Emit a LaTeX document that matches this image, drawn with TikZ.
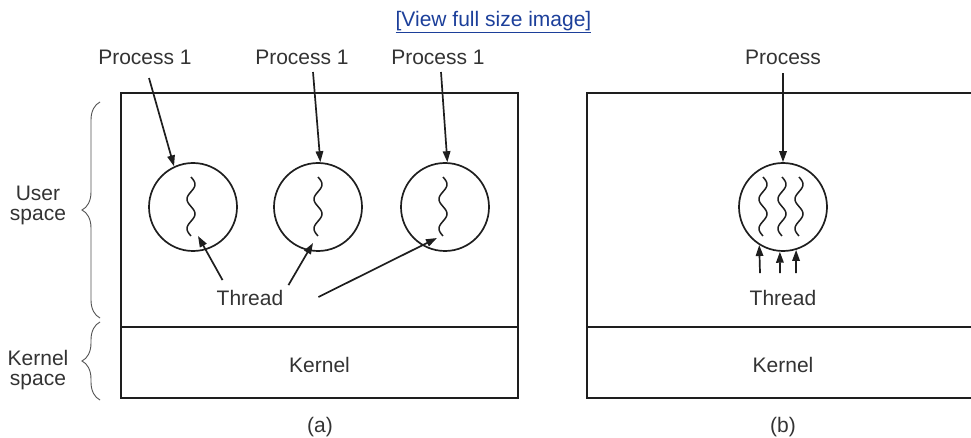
\documentclass[tikz,border=0pt]{standalone}
\usepackage{fontspec}
\setmainfont{Liberation Sans}
\usetikzlibrary{arrows.meta,decorations.pathreplacing}
\definecolor{ink}{HTML}{1E1E1E}
\definecolor{txt}{HTML}{333333}
\definecolor{linkc}{HTML}{1C3F9A}
\tikzset{
  lbl/.style={font=\fontsize{21}{20}\selectfont, text=txt, inner sep=0pt},
  region/.style={draw=ink, line width=1.9pt, minimum height=234pt, inner sep=0pt},
  kbox/.style={draw=ink, line width=1.9pt, minimum height=71pt, inner sep=0pt,
    font=\fontsize{21}{20}\selectfont, text=txt, text height=20pt},
  proc/.style={circle, draw=ink, line width=1.7pt, minimum size=88pt, inner sep=0pt},
  arr/.style={draw=ink, line width=1.7pt, -{Triangle[length=11pt,width=7.5pt]}},
  wave/.style={draw=ink, line width=1.5pt},
  cbrace/.style={draw=txt!85, line width=0.9pt, decorate, decoration={brace, amplitude=18pt}}
}
\begin{document}
\begin{tikzpicture}[x=1pt,y=-1pt]
\useasboundingbox (0,0) rectangle (971,438);
\clip (0,0) rectangle (971,438);

% link
\node[lbl, text=linkc] (link) at (493.5,22) {\underline{[View full size image]}};

% boxes
\node[region, minimum width=397pt] (ua) at (319.5,210) {};
\node[kbox, minimum width=397pt] (ka) at (319.5,362.5) {Kernel};
\node[region, minimum width=392pt] (ub) at (783,210) {};
\node[kbox, minimum width=392pt] (kb) at (783,362.5) {Kernel};

% side labels and braces
\node[lbl, align=center] (us) at (38,205) {User\\space};
\node[lbl, align=center] (ks) at (38,370) {Kernel\\space};
\draw[cbrace] (100,318) -- (100,102);
\draw[cbrace] (100,400) -- (100,322);

% processes
\node[proc] (c1) at (193,207) {};
\node[proc] (c2) at (318,207) {};
\node[proc] (c3) at (445,207) {};
\node[proc] (cb) at (783,207) {};

% threads (squiggles)
\foreach \xx in {191,318,443,763,782,799}{
  \draw[wave] plot[domain=0:1, samples=60, smooth, variable=\t]
    ({\xx+4*sin(720*\t)},{177+59*\t});
}

% labels
\node[lbl] (p1) at (145,57) {Process 1};
\node[lbl] (p2) at (302,57) {Process 1};
\node[lbl] (p3) at (438,57) {Process 1};
\node[lbl] (pb) at (783,57) {Process};
\node[lbl] (tha) at (250,298) {Thread};
\node[lbl] (thb) at (783,298) {Thread};
\node[lbl] (la) at (320,427) {(a)};
\node[lbl] (lb) at (783,427) {(b)};

% process arrows
\draw[arr] ([xshift=4pt,yshift=-13.5pt]p1.south) -- (c1.115);
\draw[arr] ([xshift=11pt,yshift=-7.5pt]p2.south) -- (c2.87);
\draw[arr] ([xshift=3pt,yshift=-7.5pt]p3.south) -- (c3.87);
\draw[arr] ([yshift=-8.5pt]pb.south) -- (cb.north);

% thread arrows (a)
\coordinate (h1) at (198,236);
\coordinate (h2) at (313,243);
\coordinate (h3) at (437,238);
\draw[arr] ([xshift=6pt,yshift=10pt]tha.north west) -- (h1);
\draw[arr] ([xshift=5pt,yshift=5pt]tha.north east) -- (h2);
\draw[arr] ([xshift=35pt,yshift=1pt]tha.east) -- (h3);

% thread arrows (b)
\draw[arr] ([xshift=-23pt,yshift=17pt]thb.north) -- (cb.238);
\draw[arr] ([xshift=-3pt,yshift=17pt]thb.north) -- (cb.266);
\draw[arr] ([xshift=13pt,yshift=17pt]thb.north) -- (cb.287);
\end{tikzpicture}
\end{document}
